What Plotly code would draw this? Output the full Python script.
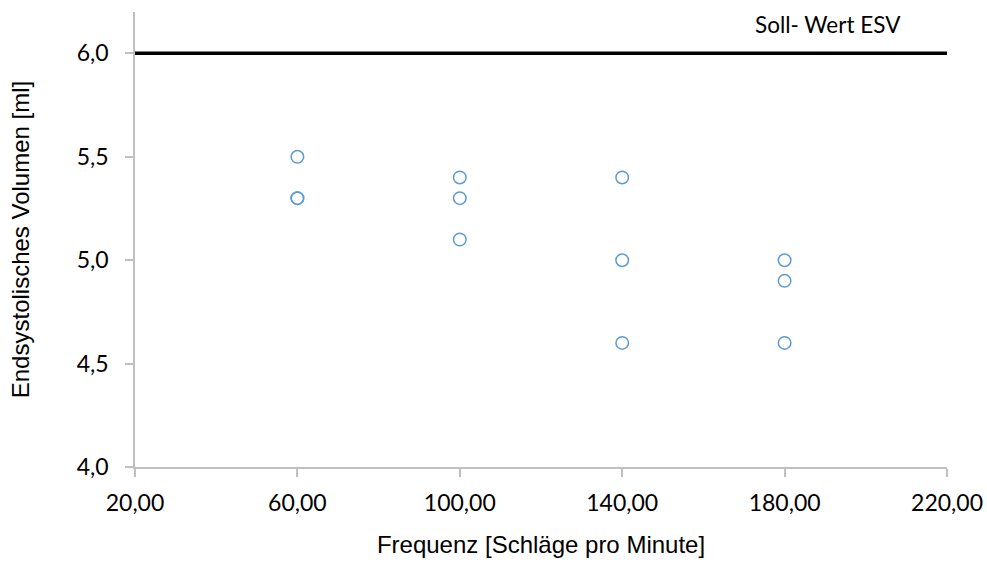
import plotly.graph_objects as go

freq = [60, 60, 60, 100, 100, 100, 140, 140, 140, 180, 180, 180]
esv = [5.5, 5.3, 5.3, 5.4, 5.3, 5.1, 5.4, 5.0, 4.6, 5.0, 4.9, 4.6]
target_x = [20, 220]
target_y = [6.0, 6.0]
target_label = "Soll- Wert ESV"
x_ticks = [20, 60, 100, 140, 180, 220]
y_ticks = [4.0, 4.5, 5.0, 5.5, 6.0]

fig = go.Figure()
fig.add_trace(go.Scatter(x=target_x, y=target_y, mode="lines",
                         line=dict(color="black", width=3.5), showlegend=False,
                         cliponaxis=False, hoverinfo="skip"))
fig.add_trace(go.Scatter(x=freq, y=esv, mode="markers",
                         marker=dict(symbol="circle-open", size=12.5,
                                     color="#5b9bd5", line=dict(width=1.5)),
                         showlegend=False))

fig.add_annotation(x=190.7, y=6.14, xref="x", yref="y", text=target_label,
                   showarrow=False, font=dict(family="Lato", size=22.5, color="black"))

axis_common = dict(showline=True, linecolor="#bfbfbf", linewidth=1.5,
                   ticks="outside", ticklen=8, tickcolor="#bfbfbf", tickwidth=1.5,
                   showgrid=False, zeroline=False, automargin=False,
                   tickfont=dict(family="Lato", size=23, color="black"))

fig.update_layout(
    width=987, height=569,
    margin=dict(l=135, r=40, t=12, b=102),
    paper_bgcolor="white", plot_bgcolor="white",
    separators=",.",
    xaxis=dict(range=[20, 220], tickvals=x_ticks, tickformat=".2f",
               ticklabelstandoff=7,
               title=dict(text="Frequenz [Schläge pro Minute]", standoff=21,
                          font=dict(family="Liberation Sans", size=24, color="black")),
               **axis_common),
    yaxis=dict(range=[4.0, 6.2], tickvals=y_ticks, tickformat=".1f",
               ticklabelstandoff=12,
               title=dict(text="Endsystolisches Volumen [ml]", standoff=40,
                          font=dict(family="Liberation Sans", size=24, color="black")),
               **axis_common),
)

fig.write_html("out.html", config={"displayModeBar": False},
               post_script="document.body.style.margin='0';")
